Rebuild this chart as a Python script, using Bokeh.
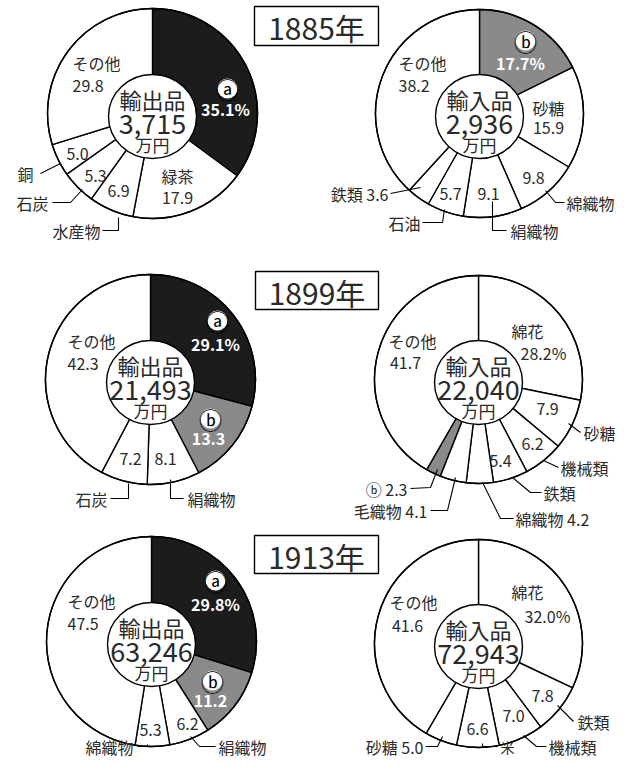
import math
from bokeh.plotting import figure
from bokeh.models import Range1d, ColumnDataSource
from bokeh.core.properties import value
from bokeh.embed import file_html
from bokeh.resources import INLINE

FONT = "Noto Sans CJK JP"

# ---------------- data ----------------
years = ["1885年", "1899年", "1913年"]
export_totals = ["3,715", "21,493", "63,246"]
import_totals = ["2,936", "22,040", "72,943"]
export_title = "輸出品"
import_title = "輸入品"
unit = "万円"

exp1885_labels = ["ⓐ", "緑茶", "水産物", "石炭", "銅", "その他"]
exp1885_values = [35.1, 17.9, 6.9, 5.3, 5.0, 29.8]
imp1885_labels = ["ⓑ", "砂糖", "綿織物", "絹織物", "石油", "鉄類", "その他"]
imp1885_values = [17.7, 15.9, 9.8, 9.1, 5.7, 3.6, 38.2]
exp1899_labels = ["ⓐ", "ⓑ", "絹織物", "石炭", "その他"]
exp1899_values = [29.1, 13.3, 8.1, 7.2, 42.3]
imp1899_labels = ["綿花", "砂糖", "機械類", "鉄類", "綿織物", "毛織物", "ⓑ", "その他"]
imp1899_values = [28.2, 7.9, 6.2, 5.4, 4.2, 4.1, 2.3, 41.7]
exp1913_labels = ["ⓐ", "ⓑ", "絹織物", "綿織物", "その他"]
exp1913_values = [29.8, 11.2, 6.2, 5.3, 47.5]
imp1913_labels = ["綿花", "鉄類", "機械類", "米", "砂糖", "その他"]
imp1913_values = [32.0, 7.8, 7.0, 6.6, 5.0, 41.6]

# ---------------- layout (pixel offsets from each pie centre) ----------------
W, H = 634, 774
FW, FH = 618, 758


def Y(y):
    return H - y


# items: ("c", dx, dy) circled letter on a disk; ("t", template, dx, dy, align) text inside slice;
# ("o", template, dx, dy, align[, size]) text outside the pie; ("l", [pts]) leader line
layout_exp1885 = [
    [("c", 75, -25), ("t", "{v}", 73, -5, "center")],
    [("t", "{n}", 25, 62, "center"), ("t", "{v}", 25, 84, "center")],
    [("t", "{v}", -34, 77, "center"), ("o", "{n}", -52, 117, "right"),
     ("l", [(-50, 117), (-34, 117), (-34, 104)])],
    [("t", "{v}", -57, 62, "center"), ("o", "{n}", -104, 89, "right"),
     ("l", [(-100, 89), (-82, 89), (-70, 76)])],
    [("t", "{v}", -75, 40, "center"), ("o", "{n}", -119, 60, "right"),
     ("l", [(-112, 60), (-92, 50)])],
    [("t", "{n}", -80, -51, "left"), ("t", "{v}", -80, -28, "left")],
]
layout_imp1885 = [
    [("c", 46, -73), ("t", "{v}", 41, -51, "center")],
    [("t", "{n}", 69, -6, "center"), ("t", "{v}", 69, 14, "center")],
    [("t", "{v}", 54, 64, "center"), ("o", "{n}", 87, 89, "left"),
     ("l", [(66, 77), (76, 89), (85, 89)])],
    [("t", "{v}", 9, 80, "center"), ("o", "{n}", 31, 117, "left"),
     ("l", [(13, 88), (13, 117), (27, 117)])],
    [("t", "{v}", -29, 80, "center"), ("o", "{n}", -59, 109, "right"),
     ("l", [(-57, 109), (-37, 109), (-35, 96)])],
    [("o", "{n} {v}", -91, 80, "right"), ("l", [(-89, 80), (-59, 74)])],
    [("t", "{n}", -81, -51, "left"), ("t", "{v}", -81, -28, "left")],
]
layout_exp1899 = [
    [("c", 67, -59), ("t", "{v}", 65, -36, "center")],
    [("c", 60, 39), ("t", "{v}", 58, 59, "center")],
    [("t", "{v}", 15, 79, "center"), ("o", "{n}", 37, 119, "left"),
     ("l", [(20, 100), (20, 119), (33, 119)])],
    [("t", "{v}", -20, 79, "center"), ("o", "{n}", -43, 119, "right"),
     ("l", [(-40, 119), (-22, 119), (-22, 104)])],
    [("t", "{n}", -83, -39, "left"), ("t", "{v}", -83, -16, "left")],
]
layout_imp1899 = [
    [("t", "{n}", 49, -49, "center"), ("t", "{v}", 65, -27, "center")],
    [("t", "{v}", 69, 29, "center"), ("o", "{n}", 105, 53, "left"),
     ("l", [(90, 44), (102, 53)])],
    [("t", "{v}", 54, 64, "center"), ("o", "{n}", 82, 88, "left"),
     ("l", [(65, 81), (80, 88)])],
    [("t", "{v}", 22, 81, "center"), ("o", "{n}", 65, 113, "left"),
     ("l", [(34, 98), (52, 113), (63, 113)])],
    [("o", "{n} {v}", 37, 139, "left"), ("l", [(4, 103), (22, 139), (35, 139)])],
    [("o", "{n} {v}", -51, 131, "right"), ("l", [(-48, 131), (-31, 131), (-23, 98)])],
    [("o", "{n} {v}", -71, 109, "right"), ("l", [(-68, 109), (-48, 108), (-41, 90)])],
    [("t", "{n}", -66, -39, "center"), ("t", "{v}", -73, -17, "center")],
]
layout_exp1913 = [
    [("c", 64, -61), ("t", "{v}", 64, -38, "center")],
    [("c", 61, 39), ("t", "{v}", 59, 59, "center")],
    [("t", "{v}", 36, 82, "center"), ("o", "{n}", 67, 105, "left"),
     ("l", [(39, 95), (48, 105), (64, 105)])],
    [("t", "{v}", -1, 88, "center"), ("o", "{n}", -18, 105, "right"),
     ("l", [(-4, 103), (-4, 105), (-14, 105)])],
    [("t", "{n}", -84, -41, "left"), ("t", "{v}", -84, -18, "left")],
]
layout_imp1913 = [
    [("t", "{n}", 49, -52, "center"), ("t", "{v}", 69, -28, "center")],
    [("t", "{v}", 64, 52, "center"), ("o", "{n}", 99, 78, "left"),
     ("l", [(79, 62), (95, 78)])],
    [("t", "{v}", 35, 72, "center"), ("o", "{n}", 70, 103, "left"),
     ("l", [(45, 92), (58, 103), (68, 103)])],
    [("t", "{v}", -1, 85, "center"), ("o", "{n}", 22, 103, "left", "14px"),
     ("l", [(4, 100), (4, 103), (19, 103)])],
    [("o", "{n} {v}", -55, 103, "right"), ("l", [(-53, 103), (-41, 103), (-36, 93)])],
    [("t", "{n}", -65, -42, "center"), ("t", "{v}", -71, -18, "center")],
]

charts = [
    # (cx, cy, r, labels, values, layout, title, total)
    (152, 113, 105, exp1885_labels, exp1885_values, layout_exp1885, export_title, export_totals[0]),
    (479, 113, 104, imp1885_labels, imp1885_values, layout_imp1885, import_title, import_totals[0]),
    (150, 379, 105, exp1899_labels, exp1899_values, layout_exp1899, export_title, export_totals[1]),
    (478, 379, 104, imp1899_labels, imp1899_values, layout_imp1899, import_title, import_totals[1]),
    (151, 641, 105, exp1913_labels, exp1913_values, layout_exp1913, export_title, export_totals[2]),
    (478, 643, 104, imp1913_labels, imp1913_values, layout_imp1913, import_title, import_totals[2]),
]
year_boxes = [(254, 378, 6, 45), (255, 378, 271, 309), (254, 378, 535, 573)]

BLACK = "#1c1c1c"
GRAY = "#8a8a8a"
TXT = "#2a2a2a"

p = figure(width=FW, height=FH, x_range=Range1d(0, FW), y_range=Range1d(H - FH, H),
           output_backend="svg", toolbar_location=None, min_border=0)
p.axis.visible = False
p.grid.visible = False
p.outline_line_color = None
p.background_fill_color = "white"

texts = dict(x=[], y=[], text=[], align=[], color=[], size=[], style=[])


def add_text(x, y, t, align="center", color=TXT, size="16px", style="normal"):
    texts["x"].append(x)
    texts["y"].append(Y(y))
    texts["text"].append(t)
    texts["align"].append(align)
    texts["color"].append(color)
    texts["size"].append(size)
    texts["style"].append(style)


disks_x, disks_y, disks_t = [], [], []
lead_xs, lead_ys = [], []

for cx, cy, r, labels, values, layout, title, total in charts:
    cum = [0.0]
    for v in values:
        cum.append(cum[-1] + v)
    starts = [math.pi / 2 - 2 * math.pi * c / 100 for c in cum[:-1]]
    ends = [math.pi / 2 - 2 * math.pi * c / 100 for c in cum[1:]]
    fills = [BLACK if n == "ⓐ" else (GRAY if n == "ⓑ" else "white") for n in labels]
    src = ColumnDataSource(dict(x=[cx] * len(values), y=[Y(cy)] * len(values),
                                s=starts, e=ends, f=fills))
    p.wedge(x="x", y="y", radius=r, start_angle="s", end_angle="e", direction="clock",
            fill_color="f", line_color="black", line_width=1.4, source=src)
    p.circle(x=[cx], y=[Y(cy)], radius=r, fill_color=None, line_color="black", line_width=1.4)
    # inner hole
    p.ellipse(x=[cx], y=[Y(cy + 3)], width=88, height=84, fill_color="white",
              line_color="black", line_width=1.4)
    add_text(cx, cy - 15, title, size="22px")
    add_text(cx, cy + 10, total, size="27px")
    add_text(cx, cy + 31, unit, size="17px")

    for i, (n, v) in enumerate(zip(labels, values)):
        vs = f"{v:.1f}" + ("%" if i == 0 else "")
        inside_dark = fills[i] != "white"
        for it in layout[i]:
            if it[0] == "c":
                disks_x.append(cx + it[1])
                disks_y.append(Y(cy + it[2]))
                disks_t.append(n)
            elif it[0] in ("t", "o"):
                t = it[1].format(n=n, v=vs)
                size = it[5] if len(it) > 5 else "16px"
                if inside_dark and it[0] == "t":
                    add_text(cx + it[2], cy + it[3], t, it[4], color="white", size=size, style="bold")
                else:
                    add_text(cx + it[2], cy + it[3], t, it[4], size=size)
            elif it[0] == "l":
                lead_xs.append([cx + a for a, b in it[1]])
                lead_ys.append([Y(cy + b) for a, b in it[1]])

p.multi_line(xs=lead_xs, ys=lead_ys, line_color="black", line_width=1.1)

# circled letters on a white disk
p.scatter(x=disks_x, y=disks_y, size=20, marker="circle", fill_color="white", line_color=None)
for x, y, t in zip(disks_x, disks_y, disks_t):
    texts["x"].append(x)
    texts["y"].append(y)
    texts["text"].append(t)
    texts["align"].append("center")
    texts["color"].append("black")
    texts["size"].append("23px")
    texts["style"].append("normal")

# year boxes
for (l, rgt, t, b), yr in zip(year_boxes, years):
    p.quad(left=[l], right=[rgt], top=[Y(t)], bottom=[Y(b)], fill_color="white",
           line_color="black", line_width=1.4)
    add_text((l + rgt) / 2, (t + b) / 2 + 1, yr, size="30px")

tsrc = ColumnDataSource(texts)
p.text(x="x", y="y", text="text", text_align="align", text_color="color",
       text_font_size="size", text_font_style="style", text_baseline="middle",
       text_font=value(FONT), source=tsrc)

open("out.html", "w").write(file_html(p, INLINE))
